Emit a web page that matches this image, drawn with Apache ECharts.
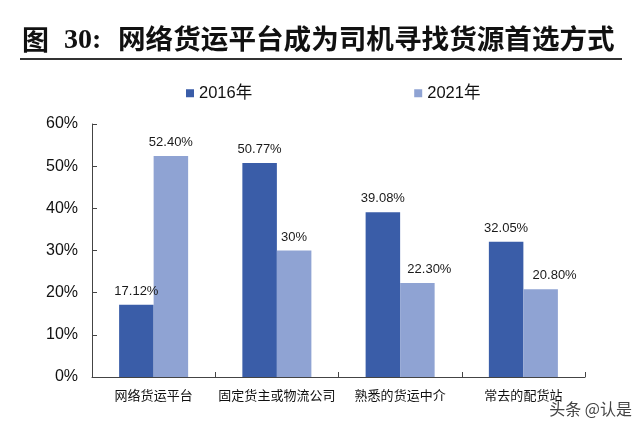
<!DOCTYPE html>
<html>
<head>
<meta charset="utf-8">
<script src="https://cdn.jsdelivr.net/npm/echarts@6/dist/echarts.min.js"></script>
<style>html,body{margin:0;padding:0;background:#fff}#c{width:640px;height:428px}</style>
</head>
<body>
<div id="c"></div>
<script>
var categories = ['网络货运平台', '固定货主或物流公司', '熟悉的货运中介', '常去的配货站'];
var seriesNames = ['2016年', '2021年'];
var values2016 = [17.12, 50.77, 39.08, 32.05];
var values2021 = [52.40, 30, 22.30, 20.80];
var labels2016 = ['17.12%', '50.77%', '39.08%', '32.05%'];
var labels2021 = ['52.40%', '30%', '22.30%', '20.80%'];
var yTicks = [0, 10, 20, 30, 40, 50, 60];

var FONT = 'Liberation Sans, Arial, Noto Sans CJK SC, sans-serif';
var chart = echarts.init(document.getElementById('c'), null, {renderer: 'canvas'});

function mk(vals, labs, offsets) {
  return vals.map(function (v, i) {
    var d = {value: v, label: {formatter: labs[i]}};
    if (offsets && offsets[i]) d.label.offset = offsets[i];
    return d;
  });
}

chart.setOption({
  animation: false,
  backgroundColor: '#fff',
  graphic: [
    {type: 'text', left: 22, top: 26, style: {text: '图', font: 'bold 27px Noto Sans CJK SC', fill: '#111'}},
    {type: 'text', left: 64, top: 27, style: {text: '30:', font: 'bold 28px Liberation Serif, serif', fill: '#111'}},
    {type: 'text', left: 118, top: 25, style: {text: '网络货运平台成为司机寻找货源首选方式', font: 'bold 27.6px Noto Sans CJK SC', fill: '#111'}},
    {type: 'line', shape: {x1: 20, y1: 59, x2: 622, y2: 59}, style: {stroke: '#333', lineWidth: 2}},
    {type: 'text', right: 8, top: 401, style: {text: '头条 @认是', font: '16px Noto Sans CJK SC', fill: '#444'}}
  ],
  legend: {
    left: 181, top: 80,
    itemWidth: 8, itemHeight: 8, itemGap: 162,
    icon: 'rect',
    data: seriesNames,
    textStyle: {fontFamily: FONT, fontSize: 16.5, color: '#111', padding: [0, 0, 0, 0]}
  },
  grid: {left: 92, right: 55, top: 124, bottom: 51, containLabel: false},
  xAxis: {
    type: 'category',
    data: categories,
    axisLine: {lineStyle: {color: '#444', width: 1}},
    axisTick: {show: true, inside: true, length: 5, lineStyle: {color: '#444'}},
    axisLabel: {fontFamily: FONT, fontSize: 13, color: '#111', margin: 13, interval: 0}
  },
  yAxis: {
    type: 'value',
    min: 0, max: 60, interval: 10,
    splitLine: {show: false},
    axisLine: {show: true, lineStyle: {color: '#444', width: 1}},
    axisTick: {show: true, inside: true, length: 5, lineStyle: {color: '#444'}},
    axisLabel: {fontFamily: FONT, fontSize: 16, color: '#111', margin: 14,
      formatter: function (v) { return yTicks.indexOf(v) >= 0 ? v + '%' : ''; }}
  },
  series: [
    {
      name: seriesNames[0], type: 'bar', barGap: '0%', barCategoryGap: '44%',
      itemStyle: {color: '#3A5DA8'},
      label: {show: true, position: 'top', distance: 7, fontFamily: FONT, fontSize: 13, color: '#1a1a1a'},
      data: mk(values2016, labels2016)
    },
    {
      name: seriesNames[1], type: 'bar', barGap: '0%', barCategoryGap: '44%',
      itemStyle: {color: '#8FA3D3'},
      label: {show: true, position: 'top', distance: 7, fontFamily: FONT, fontSize: 13, color: '#1a1a1a'},
      data: mk(values2021, labels2021, [null, null, [12, 0], [14, 0]])
    }
  ]
});
</script>
</body>
</html>
